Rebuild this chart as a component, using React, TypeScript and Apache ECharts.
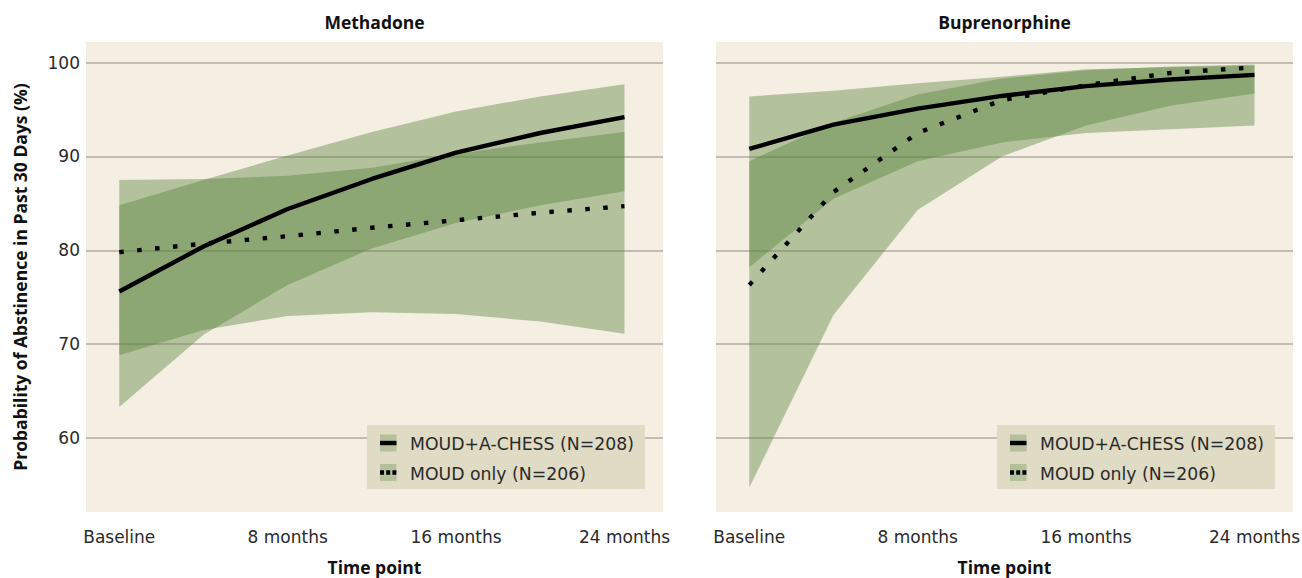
import React, { useEffect, useRef } from "react";
import * as echarts from "echarts";

const months = [0, 4, 8, 12, 16, 20, 24];
const xTickValues = [0, 8, 16, 24];
const xTickLabels = ["Baseline", "8 months", "16 months", "24 months"];
const yTickValues = [60, 70, 80, 90, 100];

const panelTitles = ["Methadone", "Buprenorphine"];
const seriesNames = ["MOUD+A-CHESS (N=208)", "MOUD only (N=206)"];

// Methadone
const mChessMean = [75.6, 80.4, 84.4, 87.6, 90.4, 92.5, 94.2];
const mChessLo = [63.3, 71.0, 76.3, 80.2, 82.9, 84.8, 86.3];
const mChessHi = [84.8, 87.5, 90.1, 92.6, 94.8, 96.4, 97.7];
const mOnlyMean = [79.8, 80.7, 81.5, 82.4, 83.2, 84.0, 84.7];
const mOnlyLo = [68.8, 71.5, 73.0, 73.4, 73.2, 72.4, 71.1];
const mOnlyHi = [87.5, 87.6, 87.95, 88.8, 90.3, 91.5, 92.6];

// Buprenorphine
const bChessMean = [90.8, 93.4, 95.1, 96.45, 97.5, 98.2, 98.7];
const bChessLo = [78.2, 85.5, 89.5, 91.5, 92.5, 92.9, 93.3];
const bChessHi = [96.4, 97.0, 97.8, 98.5, 99.3, 99.5, 99.7];
const bOnlyMean = [76.3, 86.2, 92.5, 96.0, 97.6, 98.9, 99.5];
const bOnlyLo = [54.7, 73.1, 84.3, 90.0, 93.3, 95.4, 96.7];
const bOnlyHi = [89.5, 93.6, 96.6, 98.3, 99.2, 99.6, 99.8];

const FONT = "'DejaVu Sans', 'Noto Sans', sans-serif";
const BOLD_FONT = "'Open Sans', 'Noto Sans', sans-serif";
const BAND = "rgba(88,130,60,0.42)";
const KEY_FILL = "#B4C09A";
const PANEL_BG = "#F5EEE3";
const GRID_LINE = "#B3ABA2";
const LEGEND_BG = "#E0DBC4";
const TICK_SIZE = 17;
const LEGEND_SIZE = 17.3;
const BOLD_SIZE = 17.5;

function bandSeries(idx: number, lo: number[], hi: number[]) {
  return {
    type: "custom",
    xAxisIndex: idx,
    yAxisIndex: idx,
    silent: true,
    z: 1,
    data: [0],
    renderItem: (_params: any, api: any) => {
      const upper = months.map((m, i) => api.coord([m, hi[i]]));
      const lower = months.map((m, i) => api.coord([m, lo[i]])).reverse();
      return {
        type: "polygon",
        shape: { points: [...upper, ...lower] },
        style: { fill: BAND },
      };
    },
  };
}

function lineSeries(idx: number, name: string, vals: number[], dotted: boolean) {
  return {
    type: "line",
    name,
    xAxisIndex: idx,
    yAxisIndex: idx,
    symbol: "none",
    z: 5,
    lineStyle: {
      color: "#000",
      width: 4.4,
      type: dotted ? [4.5, 13.5] : "solid",
      cap: "butt",
    },
    data: months.map((m, i) => [m, vals[i]]),
  };
}

function legendGraphic(offsetX: number) {
  const x0 = 367 + offsetX;
  const y0 = 425;
  const items: any[] = [
    { type: "rect", shape: { x: x0, y: y0, width: 278, height: 64 }, style: { fill: LEGEND_BG } },
    { type: "rect", shape: { x: x0 + 13, y: y0 + 9.5, width: 16.5, height: 17 }, style: { fill: KEY_FILL } },
    { type: "line", shape: { x1: x0 + 13, y1: y0 + 18, x2: x0 + 29.5, y2: y0 + 18 }, style: { stroke: "#000", lineWidth: 4.4 } },
    { type: "rect", shape: { x: x0 + 13, y: y0 + 39, width: 16.5, height: 17 }, style: { fill: KEY_FILL } },
    { type: "line", shape: { x1: x0 + 13, y1: y0 + 47.5, x2: x0 + 29.5, y2: y0 + 47.5 }, style: { stroke: "#000", lineWidth: 4.4, lineDash: [4, 2.2] } },
    { type: "text", x: x0 + 43, y: y0 + 18.5, style: { text: seriesNames[0], font: `${LEGEND_SIZE}px ${FONT}`, fill: "#2a2a2a", textVerticalAlign: "middle" } },
    { type: "text", x: x0 + 43, y: y0 + 48.5, style: { text: seriesNames[1], font: `${LEGEND_SIZE}px ${FONT}`, fill: "#2a2a2a", textVerticalAlign: "middle" } },
  ];
  return items.map((it) => ({ ...it, z: 100 }));
}

export default function App() {
  const ref = useRef<HTMLDivElement>(null);
  useEffect(() => {
    if (!ref.current) return;
    const chart = echarts.init(ref.current, undefined, { renderer: "svg" });
    const grids = [
      { left: 86, top: 42, width: 577, height: 470 },
      { left: 716, top: 42, width: 577, height: 470 },
    ];
    const xAxes = [0, 1].map((i) => ({
      type: "value",
      gridIndex: i,
      min: -1.58,
      max: 25.83,
      name: "Time point",
      nameLocation: "middle",
      nameGap: 46,
      nameTextStyle: { fontFamily: BOLD_FONT, fontWeight: "bold", fontSize: BOLD_SIZE, lineHeight: 18, color: "#111" },
      axisLine: { show: false },
      axisTick: { show: false, customValues: xTickValues },
      splitLine: { show: false },
      axisLabel: {
        customValues: xTickValues,
        margin: 16,
        fontFamily: FONT,
        fontSize: TICK_SIZE,
        color: "#2a2a2a",
        formatter: (v: number) => xTickLabels[xTickValues.indexOf(v)] ?? "",
      },
    }));
    const yAxes = [0, 1].map((i) => ({
      type: "value",
      gridIndex: i,
      min: 52.1,
      max: 102.2,
      name: i === 0 ? "Probability of Abstinence in Past 30 Days (%)" : "",
      nameLocation: "middle",
      nameRotate: 90,
      nameGap: 57,
      nameTextStyle: { fontFamily: BOLD_FONT, fontWeight: "bold", fontSize: BOLD_SIZE, color: "#111" },
      axisLine: { show: false },
      axisTick: { show: false, customValues: yTickValues },
      splitLine: { show: true, lineStyle: { color: GRID_LINE, width: 1.6 } },
      axisLabel: {
        show: i === 0,
        customValues: yTickValues,
        margin: 6,
        fontFamily: FONT,
        fontSize: TICK_SIZE,
        color: "#2a2a2a",
      },
    }));
    const option: any = {
      animation: false,
      grid: grids.map((g) => ({
        ...g,
        show: true,
        backgroundColor: PANEL_BG,
        borderWidth: 0,
        containLabel: false,
        outerBoundsMode: "none",
      })),
      xAxis: xAxes,
      yAxis: yAxes,
      series: [
        bandSeries(0, mChessLo, mChessHi),
        bandSeries(0, mOnlyLo, mOnlyHi),
        bandSeries(1, bChessLo, bChessHi),
        bandSeries(1, bOnlyLo, bOnlyHi),
        lineSeries(0, seriesNames[0], mChessMean, false),
        lineSeries(0, seriesNames[1], mOnlyMean, true),
        lineSeries(1, seriesNames[0], bChessMean, false),
        lineSeries(1, seriesNames[1], bOnlyMean, true),
      ],
      graphic: [
        {
          type: "text",
          x: 374.5,
          y: 22,
          style: { text: panelTitles[0], font: `bold ${BOLD_SIZE}px ${BOLD_FONT}`, fill: "#111", textAlign: "center", textVerticalAlign: "middle" },
        },
        {
          type: "text",
          x: 1004.5,
          y: 22,
          style: { text: panelTitles[1], font: `bold ${BOLD_SIZE}px ${BOLD_FONT}`, fill: "#111", textAlign: "center", textVerticalAlign: "middle" },
        },
        ...legendGraphic(0),
        ...legendGraphic(630),
      ],
    };
    chart.setOption(option);
    return () => chart.dispose();
  }, []);
  return (
    <div
      ref={ref}
      style={{ position: "absolute", left: 0, top: 0, width: 1302, height: 578, background: "#fff" }}
    />
  );
}
